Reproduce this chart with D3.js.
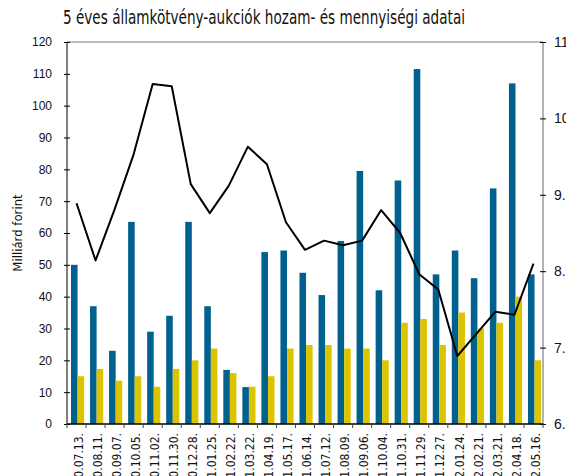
<!DOCTYPE html>
<html>
<head>
<meta charset="utf-8">
<script src="https://cdn.jsdelivr.net/npm/d3@7"></script>
<style>
  body { margin: 0; background: #fff; }
  svg { font-family: "Liberation Sans Narrow", "DejaVu Sans Condensed", "Roboto", sans-serif; }
</style>
</head>
<body>
<svg id="chart" width="566" height="476"></svg>
<script>
var dates = ["2010.07.13.", "2010.08.11.", "2010.09.07.", "2010.10.05.", "2010.11.02.", "2010.11.30.", "2010.12.28.",
  "2011.01.25.", "2011.02.22.", "2011.03.22.", "2011.04.19.", "2011.05.17.", "2011.06.14.", "2011.07.12.",
  "2011.08.09.", "2011.09.06.", "2011.10.04.", "2011.10.31.", "2011.11.29.", "2011.12.27.",
  "2012.01.24.", "2012.02.21.", "2012.03.21.", "2012.04.18.", "2012.05.16."];

// blue bars (Milliárd forint)
var offered = [50, 37, 23, 63.5, 29, 34, 63.5, 37, 17, 11.6, 54, 54.5, 47.5, 40.5, 57.5, 79.5, 42, 76.5, 111.5, 47, 54.5, 45.8, 74, 107, 47];
// yellow bars (Milliárd forint)
var accepted = [15, 17.3, 13.6, 15, 11.7, 17.3, 20, 23.7, 16, 11.7, 15, 23.7, 24.8, 24.8, 23.7, 23.7, 20, 31.8, 33, 24.8, 35, 30, 31.8, 40, 20];
// yield line (%, right axis)
var yields = [8.89, 8.14, 8.81, 9.53, 10.45, 10.42, 9.14, 8.76, 9.12, 9.63, 9.4, 8.64, 8.28, 8.4, 8.34, 8.4, 8.8, 8.5, 7.96, 7.76, 6.89, 7.18, 7.47, 7.43, 8.1];

var leftTicks = d3.range(0, 121, 10);
var rightTicks = [6, 7, 8, 9, 10, 11];

var blue = "#00608e", yellow = "#dcc500";

var svg = d3.select("#chart"),
  margin = { top: 42, right: 23, bottom: 52, left: 67 },
  width = +svg.attr("width") - margin.left - margin.right,
  height = +svg.attr("height") - margin.top - margin.bottom;

var x0 = d3.scaleBand()
  .domain(dates)
  .range([margin.left, margin.left + width]);

var x1 = d3.scaleBand()
  .domain(["offered", "accepted"])
  .range([x0.bandwidth() * 0.21, x0.bandwidth() * 0.9]);

var y = d3.scaleLinear().domain([0, 120]).range([margin.top + height, margin.top]);
var y2 = d3.scaleLinear().domain([6, 11]).range([margin.top + height, margin.top]);

// title (narrow face in the original)
svg.append("text")
  .attr("x", 63).attr("y", 24)
  .attr("textLength", 402)
  .attr("lengthAdjust", "spacingAndGlyphs")
  .style("font-size", "19px")
  .style("fill", "#111")
  .text("5 éves államkötvény-aukciók hozam- és mennyiségi adatai");

// plot frame: top line
svg.append("line")
  .attr("x1", margin.left).attr("x2", margin.left + width)
  .attr("y1", margin.top).attr("y2", margin.top)
  .style("stroke", "#777").style("stroke-width", 1);

// bars
var groups = svg.append("g").selectAll("g")
  .data(dates)
  .enter().append("g")
  .attr("transform", d => "translate(" + x0(d) + ",0)");

groups.append("rect")
  .attr("x", x1("offered"))
  .attr("width", x1.bandwidth())
  .attr("y", (d, i) => y(offered[i]))
  .attr("height", (d, i) => y(0) - y(offered[i]))
  .style("fill", blue);

groups.append("rect")
  .attr("x", x1("accepted"))
  .attr("width", x1.bandwidth())
  .attr("y", (d, i) => y(accepted[i]))
  .attr("height", (d, i) => y(0) - y(accepted[i]))
  .style("fill", yellow);

// yield line
var line = d3.line()
  .x((d, i) => x0(dates[i]) + x0.bandwidth() / 2)
  .y(d => y2(d));

svg.append("path")
  .datum(yields)
  .attr("d", line)
  .style("fill", "none")
  .style("stroke", "#000")
  .style("stroke-width", 2)
  .style("stroke-linejoin", "round");

// left axis
var leftAxis = svg.append("g")
  .attr("transform", "translate(" + margin.left + ",0)")
  .call(d3.axisLeft(y).tickValues(leftTicks).tickSize(4).tickPadding(11));
leftAxis.select(".domain").attr("d", "M0," + margin.top + "V" + (margin.top + height)).style("stroke", "#000");
leftAxis.selectAll(".tick line").attr("x1", 3).attr("x2", -3).style("stroke", "#000");
leftAxis.selectAll("text").style("font-size", "12px").style("fill", "#111");

// right axis
var rightAxis = svg.append("g")
  .attr("transform", "translate(" + (margin.left + width) + ",0)")
  .call(d3.axisRight(y2).tickValues(rightTicks).tickSize(4).tickPadding(7));
rightAxis.select(".domain").attr("d", "M0," + margin.top + "V" + (margin.top + height)).style("stroke", "#666");
rightAxis.selectAll(".tick line").attr("x1", -3).attr("x2", 3).style("stroke", "#000");
rightAxis.selectAll("text").style("font-size", "14px").style("fill", "#111");

// bottom axis with ticks on band boundaries
var bottom = svg.append("g")
  .attr("transform", "translate(0," + (margin.top + height) + ")");
bottom.append("line")
  .attr("x1", margin.left).attr("x2", margin.left + width)
  .style("stroke", "#000").style("stroke-width", 1.5);
bottom.selectAll(".bt")
  .data(dates.concat(["end"]))
  .enter().append("line")
  .attr("class", "bt")
  .attr("x1", (d, i) => margin.left + i * x0.step())
  .attr("x2", (d, i) => margin.left + i * x0.step())
  .attr("y1", -1).attr("y2", 4)
  .style("stroke", "#444");

bottom.selectAll(".lbl")
  .data(dates)
  .enter().append("text")
  .attr("class", "lbl")
  .attr("transform", d => "translate(" + (x0(d) + x0.bandwidth() / 2 + 2) + ",9) rotate(-90)")
  .attr("text-anchor", "end")
  .attr("dy", "0.35em")
  .style("font-size", "12px")
  .style("fill", "#111")
  .text(d => d);

// y title
svg.append("text")
  .attr("transform", "translate(22," + (margin.top + height / 2) + ") rotate(-90)")
  .attr("text-anchor", "middle")
  .style("font-size", "13px")
  .style("fill", "#111")
  .text("Milliárd forint");
</script>
</body>
</html>
